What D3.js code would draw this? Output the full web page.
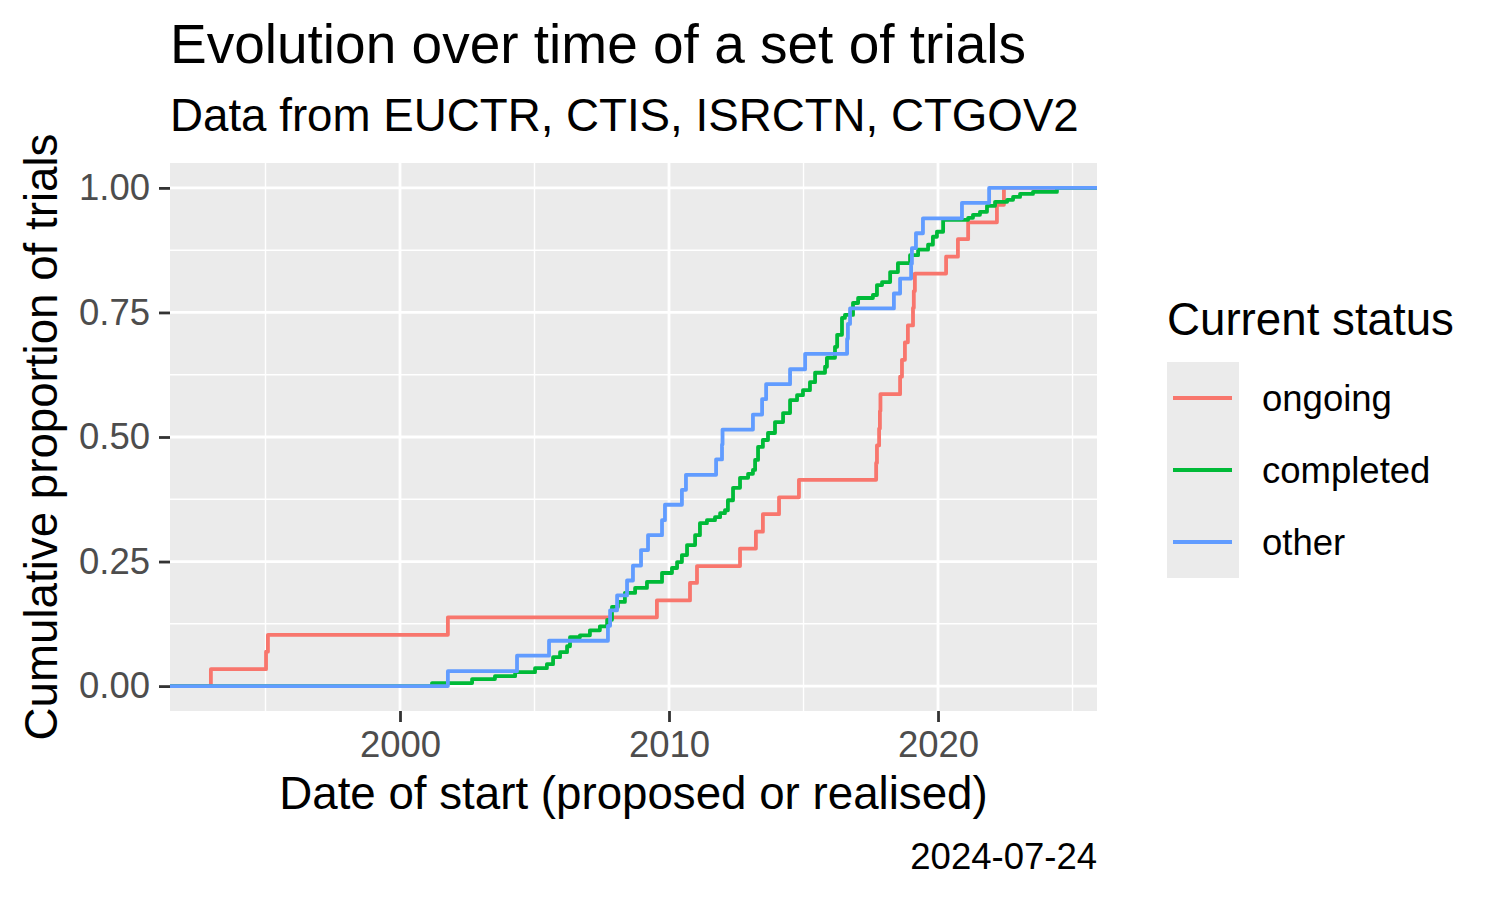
<!DOCTYPE html>
<html>
<head>
<meta charset="utf-8">
<script src="https://cdn.jsdelivr.net/npm/d3@7"></script>
<style>
  html, body { margin: 0; padding: 0; background: #ffffff; }
  svg { display: block; }
  text { font-family: "Liberation Sans", Arial, Helvetica, sans-serif; }
</style>
</head>
<body>
<svg id="chart" width="1500" height="900"></svg>
<script>
// ---------------- data ----------------
const statusNames = ["ongoing", "completed", "other"];
const statusColors = ["#F8766D", "#00BA38", "#619CFF"];

const ongoingYears = [1992.97, 1995.02, 1995.09, 2001.78, 2009.55, 2010.78, 2011.04, 2012.64, 2013.23, 2013.49,
  2014.09, 2014.83, 2017.70, 2017.73, 2017.81, 2017.84, 2017.86, 2018.59, 2018.66, 2018.77,
  2018.88, 2019.07, 2019.10, 2019.14, 2020.30, 2020.74, 2021.12, 2022.19, 2022.45];
const ongoingValues = [0.034, 0.069, 0.103, 0.138, 0.172, 0.207, 0.241, 0.276, 0.310, 0.345,
  0.379, 0.414, 0.448, 0.483, 0.517, 0.552, 0.586, 0.621, 0.655, 0.690,
  0.724, 0.759, 0.793, 0.828, 0.862, 0.897, 0.931, 0.966, 1.000];

const completedYears = [2001.19, 2002.68, 2003.53, 2004.28, 2005.02, 2005.46, 2005.69, 2005.95, 2006.21, 2006.32,
  2006.69, 2007.06, 2007.43, 2007.70, 2007.88, 2008.10, 2008.36, 2008.74, 2009.18, 2009.74,
  2010.11, 2010.30, 2010.48, 2010.67, 2010.97, 2011.15, 2011.41, 2011.71, 2011.90, 2012.08,
  2012.19, 2012.38, 2012.64, 2012.94, 2013.12, 2013.20, 2013.31, 2013.49, 2013.68, 2013.94,
  2014.24, 2014.50, 2014.76, 2014.98, 2015.24, 2015.43, 2015.80, 2015.87, 2016.17, 2016.25,
  2016.43, 2016.54, 2016.84, 2017.03, 2017.58, 2017.73, 2017.92, 2018.22, 2018.51, 2018.96,
  2019.26, 2019.63, 2019.81, 2019.96, 2020.19, 2021.12, 2021.30, 2021.56, 2021.82, 2022.12,
  2022.57, 2022.79, 2023.05, 2023.53, 2024.42];
const completedValues = [0.006, 0.014, 0.020, 0.028, 0.036, 0.044, 0.058, 0.068, 0.080, 0.098,
  0.102, 0.112, 0.120, 0.133, 0.159, 0.169, 0.187, 0.197, 0.209, 0.227,
  0.237, 0.249, 0.263, 0.283, 0.303, 0.327, 0.333, 0.339, 0.347, 0.353,
  0.373, 0.398, 0.418, 0.426, 0.434, 0.454, 0.480, 0.494, 0.508, 0.530,
  0.548, 0.574, 0.584, 0.594, 0.610, 0.629, 0.641, 0.659, 0.681, 0.705,
  0.739, 0.745, 0.769, 0.779, 0.785, 0.805, 0.811, 0.831, 0.849, 0.865,
  0.876, 0.886, 0.902, 0.912, 0.936, 0.940, 0.946, 0.952, 0.964, 0.972,
  0.976, 0.982, 0.988, 0.992, 1.000];

const otherYears = [2001.78, 2004.35, 2005.54, 2007.73, 2007.81, 2008.07, 2008.44, 2008.66, 2008.96, 2009.22,
  2009.74, 2009.85, 2010.48, 2010.63, 2011.75, 2011.97, 2011.99, 2013.12, 2013.46, 2013.61,
  2014.50, 2015.06, 2016.62, 2016.65, 2016.73, 2018.36, 2018.59, 2019.00, 2019.03, 2019.18,
  2019.44, 2020.89, 2021.90];
const otherValues = [0.030, 0.061, 0.091, 0.121, 0.152, 0.182, 0.212, 0.242, 0.273, 0.303,
  0.333, 0.364, 0.394, 0.424, 0.455, 0.485, 0.515, 0.545, 0.576, 0.606,
  0.636, 0.667, 0.697, 0.727, 0.758, 0.788, 0.818, 0.848, 0.879, 0.909,
  0.939, 0.970, 1.000];

const xMajorTicks = [2000, 2010, 2020];
const xMinorTicks = [1995, 2005, 2015, 2025];
const yMajorTicks = [0, 0.25, 0.5, 0.75, 1];
const yMinorTicks = [0.125, 0.375, 0.625, 0.875];
const yTickLabels = ["0.00", "0.25", "0.50", "0.75", "1.00"];

const titleText = "Evolution over time of a set of trials";
const subtitleText = "Data from EUCTR, CTIS, ISRCTN, CTGOV2";
const xTitleText = "Date of start (proposed or realised)";
const yTitleText = "Cumulative proportion of trials";
const legendTitleText = "Current status";
const captionText = "2024-07-24";

// ---------------- layout ----------------
const panel = { left: 170, right: 1097, top: 163, bottom: 711 };
const svg = d3.select("#chart");

const x = d3.scaleLinear().domain([1991.45, 2025.91]).range([panel.left, panel.right]);
const y = d3.scaleLinear().domain([-0.05, 1.05]).range([panel.bottom, panel.top]);

// panel background
svg.append("rect")
  .attr("x", panel.left).attr("y", panel.top)
  .attr("width", panel.right - panel.left).attr("height", panel.bottom - panel.top)
  .attr("fill", "#EBEBEB");

const grid = svg.append("g");
grid.selectAll(".ymin").data(yMinorTicks).enter().append("line")
  .attr("x1", panel.left).attr("x2", panel.right)
  .attr("y1", d => y(d)).attr("y2", d => y(d))
  .attr("stroke", "#fff").attr("stroke-width", 1.4);
grid.selectAll(".xmin").data(xMinorTicks).enter().append("line")
  .attr("y1", panel.top).attr("y2", panel.bottom)
  .attr("x1", d => x(d)).attr("x2", d => x(d))
  .attr("stroke", "#fff").attr("stroke-width", 1.4);
grid.selectAll(".ymaj").data(yMajorTicks).enter().append("line")
  .attr("x1", panel.left).attr("x2", panel.right)
  .attr("y1", d => y(d)).attr("y2", d => y(d))
  .attr("stroke", "#fff").attr("stroke-width", 2.8);
grid.selectAll(".xmaj").data(xMajorTicks).enter().append("line")
  .attr("y1", panel.top).attr("y2", panel.bottom)
  .attr("x1", d => x(d)).attr("x2", d => x(d))
  .attr("stroke", "#fff").attr("stroke-width", 2.8);

// ---------------- lines ----------------
const seriesYears = [ongoingYears, completedYears, otherYears];
const seriesValues = [ongoingValues, completedValues, otherValues];
const line = d3.line().x(d => x(d[0])).y(d => y(d[1])).curve(d3.curveStepAfter);

const dom = x.domain();
seriesYears.forEach((yrs, i) => {
  const vals = seriesValues[i];
  const pts = [[dom[0], 0]];
  yrs.forEach((yr, j) => pts.push([yr, vals[j]]));
  pts.push([dom[1], vals[vals.length - 1]]);
  svg.append("path")
    .attr("d", line(pts))
    .attr("fill", "none")
    .attr("stroke", statusColors[i])
    .attr("stroke-width", 3.8)
    .attr("stroke-linejoin", "round");
});

// ---------------- axes ----------------
const yAxis = d3.axisLeft(y).tickValues(yMajorTicks)
  .tickFormat((d, i) => yTickLabels[i]).tickSize(11).tickPadding(9);
const gy = svg.append("g").attr("transform", `translate(${panel.left},0)`).call(yAxis);
gy.select(".domain").remove();
gy.selectAll(".tick line").attr("stroke", "#333333").attr("stroke-width", 2.8);
gy.selectAll(".tick text").attr("fill", "#4D4D4D").style("font-size", "36.5px")
  .attr("font-family", "Liberation Sans, Arial, sans-serif");

const xAxis = d3.axisBottom(x).tickValues(xMajorTicks).tickFormat(d3.format("d")).tickSize(11).tickPadding(9);
const gx = svg.append("g").attr("transform", `translate(0,${panel.bottom})`).call(xAxis);
gx.select(".domain").remove();
gx.selectAll(".tick line").attr("stroke", "#333333").attr("stroke-width", 2.8);
gx.selectAll(".tick text").attr("fill", "#4D4D4D").style("font-size", "36.5px")
  .attr("font-family", "Liberation Sans, Arial, sans-serif");

// ---------------- titles ----------------
svg.append("text").attr("x", panel.left).attr("y", 63)
  .style("font-size", "55px").attr("fill", "#000").text(titleText);
svg.append("text").attr("x", panel.left).attr("y", 131)
  .style("font-size", "45.7px").attr("fill", "#000").text(subtitleText);
svg.append("text").attr("x", (panel.left + panel.right) / 2).attr("y", 809)
  .attr("text-anchor", "middle").style("font-size", "45.7px").attr("fill", "#000").text(xTitleText);
svg.append("text")
  .attr("transform", `translate(57,${(panel.top + panel.bottom) / 2}) rotate(-90)`)
  .attr("text-anchor", "middle").style("font-size", "45.7px").attr("fill", "#000").text(yTitleText);
svg.append("text").attr("x", panel.right).attr("y", 869)
  .attr("text-anchor", "end").style("font-size", "36.5px").attr("fill", "#000").text(captionText);

// ---------------- legend ----------------
const legend = svg.append("g");
legend.append("text").attr("x", 1167).attr("y", 335)
  .style("font-size", "45.7px").attr("fill", "#000").text(legendTitleText);
const keyTop = 362, keyH = 72, keyX = 1167, keyW = 72;
legend.append("rect").attr("x", keyX).attr("y", keyTop)
  .attr("width", keyW).attr("height", keyH * statusNames.length).attr("fill", "#EBEBEB");
statusNames.forEach((name, i) => {
  const cy = keyTop + keyH * i + keyH / 2;
  legend.append("line").attr("x1", keyX + 6).attr("x2", keyX + keyW - 7)
    .attr("y1", cy).attr("y2", cy)
    .attr("stroke", statusColors[i]).attr("stroke-width", 3.8);
  legend.append("text").attr("x", 1262).attr("y", cy).attr("dy", "0.35em")
    .style("font-size", "36.5px").attr("fill", "#000").text(name);
});
</script>
</body>
</html>
